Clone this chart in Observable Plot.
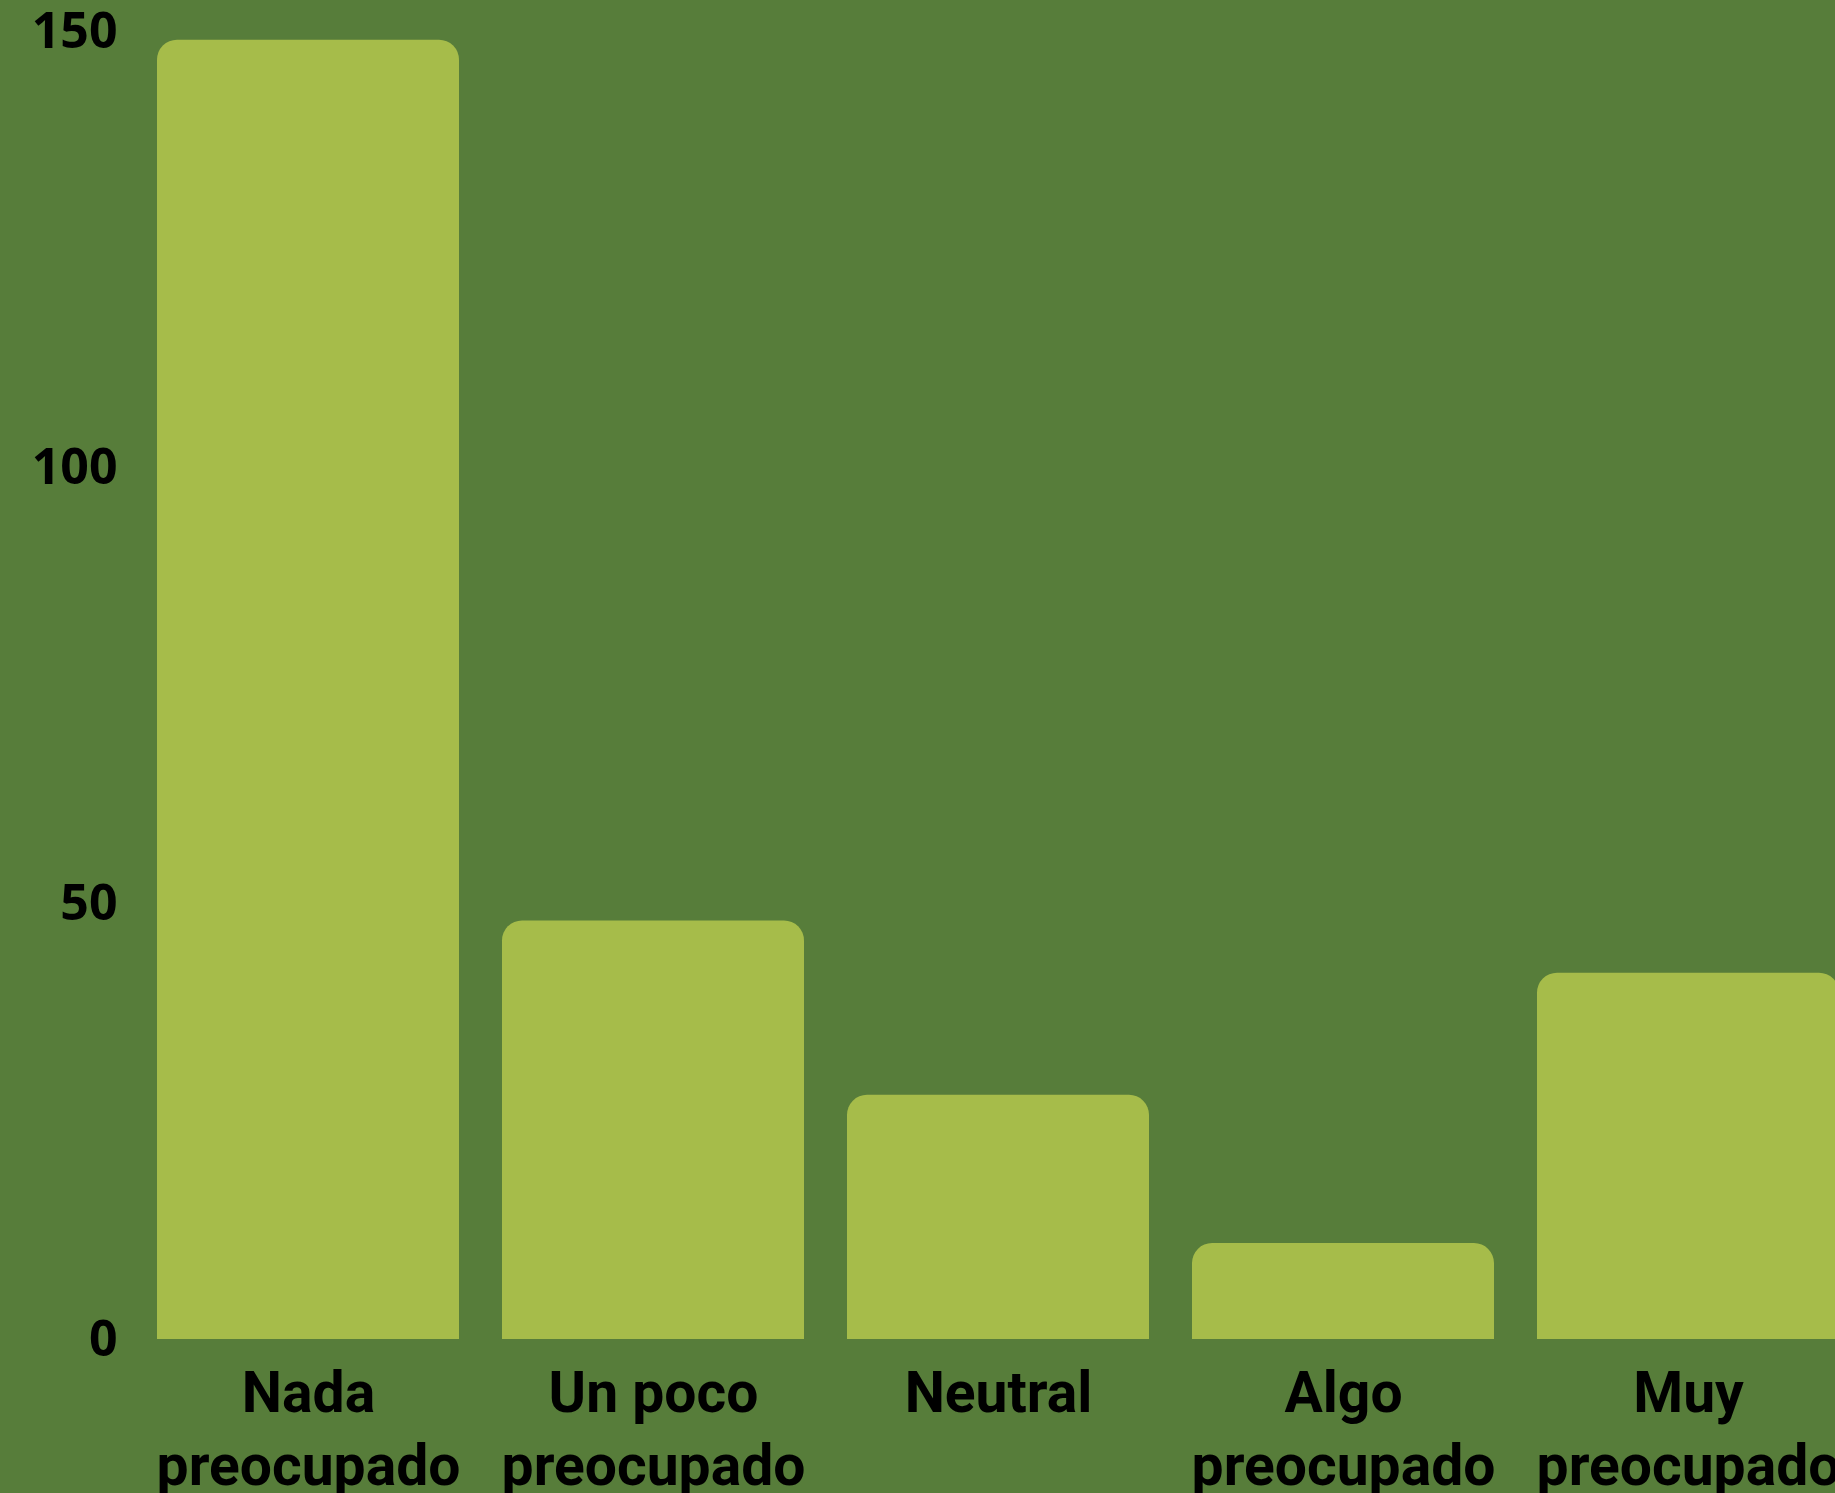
<!DOCTYPE html>
<html>
<head>
<meta charset="utf-8">
<script src="https://cdn.jsdelivr.net/npm/d3@7"></script>
<script src="https://cdn.jsdelivr.net/npm/@observablehq/plot@0.6"></script>
<style>
html, body { margin: 0; padding: 0; background: #577D3A; overflow: hidden; }
#chart svg { display: block; }
</style>
</head>
<body>
<div id="chart"></div>
<script>
const categories = ["Nada\npreocupado", "Un poco\npreocupado", "Neutral", "Algo\npreocupado", "Muy\npreocupado"];
const values = [149, 48, 28, 11, 42];
const yTicks = [0, 50, 100, 150];

const data = categories.map((c, i) => ({category: c, value: values[i]}));

const chart = Plot.plot({
  width: 1835,
  height: 1493,
  marginTop: 31,
  marginBottom: 154,
  marginLeft: 155,
  marginRight: 0,
  style: {background: "#577D3A", color: "#000", overflow: "visible"},
  x: {domain: categories, range: [155, 1842], paddingInner: 0.124, paddingOuter: 0, align: 0.5},
  y: {domain: [0, 150]},
  marks: [
    Plot.barY(data, {x: "category", y: "value", fill: "#A6BC4A", ry1: 20, ry2: 0}),
    Plot.axisY({ticks: yTicks, tickSize: 0, tickPadding: 38, fontSize: 50, fontWeight: 700, fontFamily: "Open Sans", label: null, fill: "#000"}),
    Plot.axisX({tickSize: 0, tickPadding: 21, fontSize: 57, fontWeight: 700, fontFamily: "Roboto", label: null, lineHeight: 1.28, fill: "#000"})
  ]
});
document.getElementById("chart").append(chart);
</script>
</body>
</html>
